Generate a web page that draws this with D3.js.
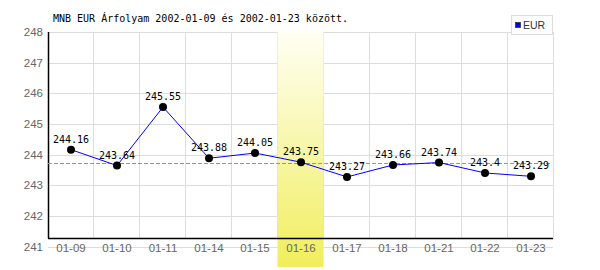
<!DOCTYPE html>
<html>
<head>
<meta charset="utf-8">
<script src="https://cdn.jsdelivr.net/npm/d3@7"></script>
<style>
  body { margin: 0; background: #fff; }
  svg { display: block; }
</style>
</head>
<body>
<svg id="chart" width="600" height="270"></svg>
<script>
const dates = ["01-09", "01-10", "01-11", "01-14", "01-15", "01-16", "01-17", "01-18", "01-21", "01-22", "01-23"];
const rates = [244.16, 243.64, 245.55, 243.88, 244.05, 243.75, 243.27, 243.66, 243.74, 243.4, 243.29];
const yTicks = [241, 242, 243, 244, 245, 246, 247, 248];
const refLine = 243.74;
const highlightDate = "01-16";
const title = "MNB EUR Árfolyam 2002-01-09 és 2002-01-23 között.";
const seriesName = "EUR";

const svg = d3.select("#chart");
const plotLeft = 48, plotRight = 554, plotTop = 32, axisY = 238.5;

const x = d3.scaleBand().domain(dates).range([plotLeft, plotRight]);
const y = d3.scaleLinear().domain([241, 248]).range([246.5, plotTop]);

// grid
const grid = svg.append("g").attr("stroke", "#dddddd").attr("shape-rendering", "crispEdges");
grid.selectAll(".h").data(yTicks).enter().append("line")
    .attr("x1", plotLeft).attr("x2", plotRight - 1)
    .attr("y1", d => Math.round(y(d)) + 0.5).attr("y2", d => Math.round(y(d)) + 0.5);
grid.selectAll(".v").data(dates).enter().append("line")
    .attr("x1", d => Math.round(x(d) + x.bandwidth()) - 0.5)
    .attr("x2", d => Math.round(x(d) + x.bandwidth()) - 0.5)
    .attr("y1", plotTop).attr("y2", axisY);

// highlighted day
const defs = svg.append("defs");
const grad = defs.append("linearGradient").attr("id", "hl").attr("x1", 0).attr("y1", 0).attr("x2", 0).attr("y2", 1);
grad.append("stop").attr("offset", 0).attr("stop-color", "#fffff4");
grad.append("stop").attr("offset", 1).attr("stop-color", "#f0ee5c");
svg.append("rect")
    .attr("x", Math.round(x(highlightDate)) - 0.5).attr("y", plotTop)
    .attr("width", x.bandwidth()).attr("height", 267 - plotTop)
    .attr("fill", "url(#hl)");

// axes lines
svg.append("line").attr("x1", plotLeft + 0.5).attr("x2", plotLeft + 0.5).attr("y1", plotTop).attr("y2", axisY)
    .attr("stroke", "#000").attr("stroke-width", 1.5);
svg.append("line").attr("x1", plotLeft).attr("x2", plotRight - 1).attr("y1", axisY).attr("y2", axisY)
    .attr("stroke", "#000").attr("stroke-width", 1.5);

// y tick labels
svg.append("g").selectAll("text").data(yTicks).enter().append("text")
    .attr("x", 43).attr("y", d => y(d) + 4)
    .attr("text-anchor", "end")
    .attr("font-family", "Liberation Sans, Arial, sans-serif").attr("font-size", 11.5)
    .attr("fill", "#666").text(d => d);

// x tick labels
svg.append("g").selectAll("text").data(dates).enter().append("text")
    .attr("x", d => x(d) + x.bandwidth() / 2).attr("y", 252)
    .attr("text-anchor", "middle")
    .attr("font-family", "Liberation Sans, Arial, sans-serif").attr("font-size", 11.5)
    .attr("fill", "#666").text(d => d);

// reference line (median)
svg.append("line")
    .attr("x1", plotLeft).attr("x2", plotRight - 4)
    .attr("y1", Math.round(y(refLine)) + 0.5).attr("y2", Math.round(y(refLine)) + 0.5)
    .attr("stroke", "#8888ff").attr("stroke-dasharray", "4,2");

// series line
const pts = dates.map((d, i) => ({ d, v: rates[i] }));
svg.append("path")
    .datum(pts)
    .attr("fill", "none").attr("stroke", "#0000ff").attr("stroke-width", 1)
    .attr("d", d3.line().x(p => x(p.d) + x.bandwidth() / 2).y(p => y(p.v)));

svg.append("g").selectAll("circle").data(pts).enter().append("circle")
    .attr("cx", p => x(p.d) + x.bandwidth() / 2).attr("cy", p => y(p.v))
    .attr("r", 4).attr("fill", "#000");

svg.append("g").selectAll("text").data(pts).enter().append("text")
    .attr("x", p => x(p.d) + x.bandwidth() / 2).attr("y", p => y(p.v) - 7)
    .attr("text-anchor", "middle")
    .attr("font-family", "DejaVu Sans Mono, monospace").attr("font-size", 10)
    .attr("fill", "#000").text(p => p.v);

// title
svg.append("text").attr("x", 53).attr("y", 22)
    .attr("font-family", "DejaVu Sans Mono, monospace").attr("font-size", 10)
    .attr("fill", "#000").text(title);

// legend
const lg = svg.append("g");
lg.append("rect").attr("x", 511.5).attr("y", 15.5).attr("width", 41).attr("height", 19)
    .attr("fill", "#fff").attr("stroke", "#dddddd");
lg.append("rect").attr("x", 515.5).attr("y", 22.5).attr("width", 5).attr("height", 5)
    .attr("fill", "#0000ff").attr("stroke", "#333").attr("stroke-width", 0.8);
lg.append("text").attr("x", 523).attr("y", 29)
    .attr("font-family", "Liberation Sans, Arial, sans-serif").attr("font-size", 10.5)
    .attr("fill", "#333").text(seriesName);
</script>
</body>
</html>
